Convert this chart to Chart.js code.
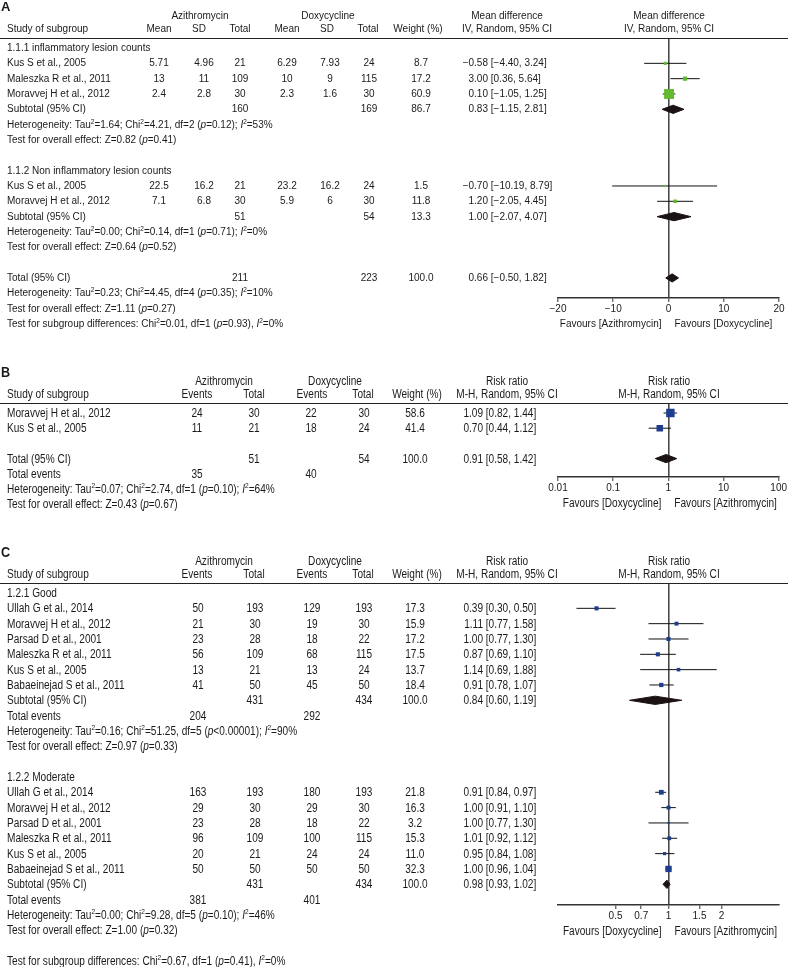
<!DOCTYPE html>
<html><head><meta charset="utf-8">
<script src="https://cdn.jsdelivr.net/npm/chart.js@4.4.0/dist/chart.umd.min.js"></script>
<style>
html,body{margin:0;padding:0;background:#fff;}
#page{position:relative;width:788px;height:967px;overflow:hidden;background:#fff;}
canvas{position:absolute;left:0;z-index:1;}
.t{position:absolute;white-space:pre;line-height:14px;height:14px;color:#1a1a1a;z-index:2;}
.fa{font-family:"Liberation Sans",Arial,sans-serif;font-size:10px;}
.fn{font-family:"Liberation Sans",Arial,sans-serif;font-size:12px;}
.lblA{font-weight:bold;font-size:13px;}
.lblN{font-weight:bold;font-size:15px;}
.hl{position:absolute;left:0;width:788px;height:0;border-top:1px solid #222;z-index:2;}
sup{font-size:0.65em;vertical-align:0.6em;line-height:0;}
</style></head>
<body><div id="page"></div>
<script>
// ---------------- Panel A data (mean difference) ----------------
const A_groupTitles = ["1.1.1 inflammatory lesion counts", "1.1.2 Non inflammatory lesion counts"];
const A_studies = [["Kus S et al., 2005", "Maleszka R et al., 2011", "Moravvej H et al., 2012"], ["Kus S et al., 2005", "Moravvej H et al., 2012"]];
const A_azMean = [[5.71, 13, 2.4], [22.5, 7.1]];
const A_azSD = [[4.96, 11, 2.8], [16.2, 6.8]];
const A_azTotal = [[21, 109, 30], [21, 30]];
const A_doxMean = [[6.29, 10, 2.3], [23.2, 5.9]];
const A_doxSD = [[7.93, 9, 1.6], [16.2, 6]];
const A_doxTotal = [[24, 115, 30], [24, 30]];
const A_weight = [[8.7, 17.2, 60.9], [1.5, 11.8]];
const A_md = [[-0.58, 3.00, 0.10], [-0.70, 1.20]];
const A_lo = [[-4.40, 0.36, -1.05], [-10.19, -2.05]];
const A_hi = [[3.24, 5.64, 1.25], [8.79, 4.45]];
const A_poolLabel = ["Subtotal (95% CI)", "Subtotal (95% CI)", "Total (95% CI)"];
const A_poolAzTotal = [160, 51, 211];
const A_poolDoxTotal = [169, 54, 223];
const A_poolWeight = [86.7, 13.3, 100.0];
const A_poolMd = [0.83, 1.00, 0.66];
const A_poolLo = [-1.15, -2.07, -0.50];
const A_poolHi = [2.81, 4.07, 1.82];
const A_hetTau = ["1.64", "0.00", "0.23"];
const A_hetChi = ["4.21", "0.14", "4.45"];
const A_hetDf = [2, 1, 4];
const A_hetP = ["=0.12", "=0.71", "=0.35"];
const A_hetI2 = [53, 0, 10];
const A_zVal = ["0.82", "0.64", "1.11"];
const A_zP = ["0.41", "0.52", "0.27"];
const A_subDiff = ["0.01", 1, "0.93", 0];
const A_ticks = [-20, -10, 0, 10, 20];

// ---------------- Panel B data (risk ratio) ----------------
const B_studies = ["Moravvej H et al., 2012", "Kus S et al., 2005"];
const B_azEvents = [24, 11];
const B_azTotal = [30, 21];
const B_doxEvents = [22, 18];
const B_doxTotal = [30, 24];
const B_weight = [58.6, 41.4];
const B_rr = [1.09, 0.70];
const B_lo = [0.82, 0.44];
const B_hi = [1.44, 1.12];
const B_poolTotals = [51, 54, 100.0];
const B_poolRR = [0.91, 0.58, 1.42];
const B_totalEvents = [35, 40];
const B_het = ["0.07", "2.74", 1, "=0.10", 64];
const B_z = ["0.43", "0.67"];
const B_ticks = [0.01, 0.1, 1, 10, 100];

// ---------------- Panel C data (risk ratio by subgroup) ----------------
const C_groupTitles = ["1.2.1 Good", "1.2.2 Moderate"];
const C_studies = ["Ullah G et al., 2014", "Moravvej H et al., 2012", "Parsad D et al., 2001", "Maleszka R et al., 2011", "Kus S et al., 2005", "Babaeinejad S et al., 2011"];
const C_azEvents = [[50, 21, 23, 56, 13, 41], [163, 29, 23, 96, 20, 50]];
const C_azTotal = [[193, 30, 28, 109, 21, 50], [193, 30, 28, 109, 21, 50]];
const C_doxEvents = [[129, 19, 18, 68, 13, 45], [180, 29, 18, 100, 24, 50]];
const C_doxTotal = [[193, 30, 22, 115, 24, 50], [193, 30, 22, 115, 24, 50]];
const C_weight = [[17.3, 15.9, 17.2, 17.5, 13.7, 18.4], [21.8, 16.3, 3.2, 15.3, 11.0, 32.3]];
const C_rr = [[0.39, 1.11, 1.00, 0.87, 1.14, 0.91], [0.91, 1.00, 1.00, 1.01, 0.95, 1.00]];
const C_lo = [[0.30, 0.77, 0.77, 0.69, 0.69, 0.78], [0.84, 0.91, 0.77, 0.92, 0.84, 0.96]];
const C_hi = [[0.50, 1.58, 1.30, 1.10, 1.88, 1.07], [0.97, 1.10, 1.30, 1.12, 1.08, 1.04]];
const C_poolAzTotal = [431, 431];
const C_poolDoxTotal = [434, 434];
const C_poolWeight = [100.0, 100.0];
const C_poolRR = [0.84, 0.98];
const C_poolLo = [0.60, 0.93];
const C_poolHi = [1.19, 1.02];
const C_totAzEvents = [204, 381];
const C_totDoxEvents = [292, 401];
const C_hetTau = ["0.16", "0.00"];
const C_hetChi = ["51.25", "9.28"];
const C_hetDf = [5, 5];
const C_hetP = ["<0.00001", "=0.10"];
const C_hetI2 = [90, 46];
const C_zVal = ["0.97", "1.00"];
const C_zP = ["0.33", "0.32"];
const C_subDiff = ["0.67", 1, "0.41", 0];
const C_ticks = [0.5, 0.7, 1, 1.5, 2];

// ---------------- helpers ----------------
const PAGE = document.getElementById('page');
const AXIS_H = 30;
const DIAMOND_H = 0.27;
const NARROW_SX = 0.84;
const num = v => String(v).replace('-', '\u2212');
const fmt2 = v => v.toFixed(2).replace('-', '\u2212');
const fmt1 = v => v.toFixed(1);
function T(html, x, y, cls, align) {
  const d = document.createElement('div');
  d.className = 't ' + cls;
  d.style.left = x + 'px';
  d.style.top = (y - 7) + 'px';
  const s = cls.indexOf('fn') >= 0 ? ' scaleX(' + NARROW_SX + ')' : '';
  if (align === 'c') { d.style.transform = 'translateX(-50%)' + s; d.style.transformOrigin = '50% 50%'; }
  else if (align === 'r') { d.style.transform = 'translateX(-100%)' + s; d.style.transformOrigin = '100% 50%'; }
  else if (s) { d.style.transform = s.trim(); d.style.transformOrigin = '0 50%'; }
  d.innerHTML = html;
  PAGE.appendChild(d);
}
function HL(y) { const d = document.createElement('div'); d.className = 'hl'; d.style.top = y + 'px'; PAGE.appendChild(d); }
function CI(est, lo, hi, x, y, cls) {
  T(fmt2(est), x, y, cls, 'r');
  T(' [' + fmt2(lo) + ', ' + fmt2(hi) + ']', x, y, cls, 'l');
}
const het = (tau, chi, df, p, i2) => 'Heterogeneity: Tau<sup>2</sup>=' + tau + '; Chi<sup>2</sup>=' + chi + ', df=' + df + ' (<i>p</i>' + p + '); <i>I</i><sup>2</sup>=' + i2 + '%';
const zt = (z, p) => 'Test for overall effect: Z=' + z + ' (<i>p</i>=' + p + ')';
const sdt = s => 'Test for subgroup differences: Chi<sup>2</sup>=' + s[0] + ', df=' + s[1] + ' (<i>p</i>=' + s[2] + '), <i>I</i><sup>2</sup>=' + s[3] + '%';

function forestSets(studies, pooled, color, sideFn) {
  const sets = [];
  sets.push({
    data: studies.map(s => ({x: s.est, y: s.r})),
    pointStyle: 'rect', pointRadius: studies.map(s => sideFn(s.w) / Math.SQRT2),
    backgroundColor: color, borderWidth: 0, pointBorderWidth: 0, showLine: false, order: 0
  });
  studies.forEach(s => sets.push({
    data: [{x: s.lo, y: s.r}, {x: s.hi, y: s.r}], showLine: true,
    borderColor: '#111', borderWidth: 1, pointRadius: 0, order: 2
  }));
  pooled.forEach(p => sets.push({
    data: [{x: p.lo, y: p.r}, {x: p.est, y: p.r - DIAMOND_H}, {x: p.hi, y: p.r}, {x: p.est, y: p.r + DIAMOND_H}, {x: p.lo, y: p.r}],
    showLine: true, fill: 'shape', backgroundColor: '#1b1313', borderColor: '#1b1313',
    borderWidth: 1, pointRadius: 0, tension: 0, order: 1
  }));
  return sets;
}

function makeChart(P, datasets) {
  const cv = document.createElement('canvas');
  cv.width = 788; cv.height = P.h;
  cv.style.top = P.top + 'px'; cv.style.width = '788px'; cv.style.height = P.h + 'px';
  PAGE.appendChild(cv);
  const yMin = -(P.firstRow - P.line) / P.step;
  const yMax = yMin + (P.axis - P.line) / P.step;
  const fav = {
    id: 'fav',
    afterDraw(chart) {
      const ctx = chart.ctx;
      const x0 = chart.scales.x.getPixelForValue(P.ref);
      const y = chart.chartArea.bottom + P.favDy;
      ctx.save();
      ctx.font = P.fontCss; ctx.fillStyle = '#1a1a1a'; ctx.textBaseline = 'middle';
      ctx.translate(x0, y); ctx.scale(P.favSx, 1);
      ctx.textAlign = 'right'; ctx.fillText(P.favL, -7 / P.favSx, 0);
      ctx.textAlign = 'left'; ctx.fillText(P.favR, 6 / P.favSx, 0);
      ctx.restore();
    }
  };
  return new Chart(cv.getContext('2d'), {
    type: 'scatter',
    data: {datasets},
    options: {
      responsive: false, animation: false, events: [],
      layout: {padding: {left: 558, right: 9, top: P.line - P.top, bottom: P.top + P.h - P.axis - AXIS_H}},
      plugins: {legend: {display: false}, tooltip: {enabled: false}},
      scales: {
        x: {
          type: P.xType, position: 'bottom', min: P.xMin, max: P.xMax, bounds: 'data',
          afterBuildTicks: ax => { ax.ticks = P.ticks.map(v => ({value: v})); },
          afterFit: ax => { ax.height = AXIS_H; },
          ticks: {autoSkip: false, maxRotation: 0, minRotation: 0, padding: 1, color: '#1a1a1a', font: P.tickFont, callback: v => num(v)},
          grid: {
            color: c => (c.tick && c.tick.value === P.ref) ? '#4a4a4a' : 'rgba(0,0,0,0)',
            lineWidth: 1.6, tickLength: 4, tickColor: '#333', tickWidth: 1
          },
          border: {display: true, color: '#333', width: 1.5}
        },
        y: {type: 'linear', display: false, reverse: true, min: yMin, max: yMax}
      }
    },
    plugins: [fav]
  });
}

// ================= Panel A =================
const PA = {top: 0, h: 340, line: 38, firstRow: 48, step: 15.33, axis: 298, ref: 0, xType: 'linear', xMin: -20, xMax: 20,
  ticks: A_ticks, tickFont: {family: '"Liberation Sans", Arial, sans-serif', size: 10}, fontCss: '10px "Liberation Sans", Arial, sans-serif',
  favL: 'Favours [Azithromycin]', favR: 'Favours [Doxycycline]', favDy: 26, favSx: 1};
const rowsA = [];
A_groupTitles.forEach((t, g) => {
  rowsA.push({kind: 'title', g});
  A_studies[g].forEach((s, i) => rowsA.push({kind: 'study', g, i}));
  rowsA.push({kind: 'pool', p: g}, {kind: 'het', p: g}, {kind: 'z', p: g}, {kind: 'blank'});
});
rowsA.push({kind: 'pool', p: 2}, {kind: 'het', p: 2}, {kind: 'z', p: 2}, {kind: 'sub'});
const stA = [], plA = [];
rowsA.forEach((r, idx) => {
  if (r.kind === 'study') stA.push({est: A_md[r.g][r.i], lo: A_lo[r.g][r.i], hi: A_hi[r.g][r.i], w: A_weight[r.g][r.i], r: idx});
  if (r.kind === 'pool') plA.push({est: A_poolMd[r.p], lo: A_poolLo[r.p], hi: A_poolHi[r.p], r: idx});
});
const chartA = makeChart(PA, forestSets(stA, plA, '#63b92f', w => 2 + 0.13 * w));
(function () {
  const f = 'fa', L = PA.line;
  const y = i => PA.top + chartA.scales.y.getPixelForValue(i);
  T('A', 1, L - 31, 'fa lblA', 'l');
  T('Azithromycin', 200, L - 22, f, 'c'); T('Doxycycline', 328, L - 22, f, 'c');
  T('Mean difference', 507, L - 22, f, 'c'); T('Mean difference', 669, L - 22, f, 'c');
  T('Study of subgroup', 7, L - 9, f, 'l');
  T('Mean', 159, L - 9, f, 'c'); T('SD', 199, L - 9, f, 'c'); T('Total', 240, L - 9, f, 'c');
  T('Mean', 287, L - 9, f, 'c'); T('SD', 327, L - 9, f, 'c'); T('Total', 368, L - 9, f, 'c');
  T('Weight (%)', 418, L - 9, f, 'c'); T('IV, Random, 95% CI', 507, L - 9, f, 'c'); T('IV, Random, 95% CI', 669, L - 9, f, 'c');
  HL(L);
  rowsA.forEach((r, idx) => {
    const yy = y(idx);
    if (r.kind === 'title') T(A_groupTitles[r.g], 7, yy, f, 'l');
    else if (r.kind === 'study') {
      const g = r.g, i = r.i;
      T(A_studies[g][i], 7, yy, f, 'l');
      T(num(A_azMean[g][i]), 159, yy, f, 'c'); T(num(A_azSD[g][i]), 204, yy, f, 'c'); T(num(A_azTotal[g][i]), 240, yy, f, 'c');
      T(num(A_doxMean[g][i]), 287, yy, f, 'c'); T(num(A_doxSD[g][i]), 330, yy, f, 'c'); T(num(A_doxTotal[g][i]), 369, yy, f, 'c');
      T(fmt1(A_weight[g][i]), 421, yy, f, 'c');
      CI(A_md[g][i], A_lo[g][i], A_hi[g][i], 488, yy, f);
    } else if (r.kind === 'pool') {
      const p = r.p;
      T(A_poolLabel[p], 7, yy, f, 'l');
      T(num(A_poolAzTotal[p]), 240, yy, f, 'c'); T(num(A_poolDoxTotal[p]), 369, yy, f, 'c');
      T(fmt1(A_poolWeight[p]), 421, yy, f, 'c');
      CI(A_poolMd[p], A_poolLo[p], A_poolHi[p], 488, yy, f);
    } else if (r.kind === 'het') T(het(A_hetTau[r.p], A_hetChi[r.p], A_hetDf[r.p], A_hetP[r.p], A_hetI2[r.p]), 7, yy, f, 'l');
    else if (r.kind === 'z') T(zt(A_zVal[r.p], A_zP[r.p]), 7, yy, f, 'l');
    else if (r.kind === 'sub') T(sdt(A_subDiff), 7, yy, f, 'l');
  });
})();

// ================= Panel B =================
const SANS = '"Liberation Sans", Arial, sans-serif';
const PB = {top: 360, h: 160, line: 403, firstRow: 413, step: 15.2, axis: 477, ref: 1, xType: 'logarithmic', xMin: 0.01, xMax: 100,
  ticks: B_ticks, tickFont: {family: SANS, size: 10}, fontCss: '12px ' + SANS,
  favL: 'Favours [Doxycycline]', favR: 'Favours [Azithromycin]', favDy: 27, favSx: NARROW_SX};
const rowsB = [];
B_studies.forEach((s, i) => rowsB.push({kind: 'study', i}));
rowsB.push({kind: 'blank'}, {kind: 'pool'}, {kind: 'events'}, {kind: 'het'}, {kind: 'z'});
const stB = [], plB = [];
rowsB.forEach((r, idx) => {
  if (r.kind === 'study') stB.push({est: B_rr[r.i], lo: B_lo[r.i], hi: B_hi[r.i], w: B_weight[r.i], r: idx});
  if (r.kind === 'pool') plB.push({est: B_poolRR[0], lo: B_poolRR[1], hi: B_poolRR[2], r: idx});
});
const chartB = makeChart(PB, forestSets(stB, plB, '#1d3d8f', w => 2 + 0.11 * w));

// ================= Panel C =================
const PC = {top: 530, h: 437, line: 583, firstRow: 593, step: 15.33, axis: 905, ref: 1, xType: 'logarithmic', xMin: 0.2355, xMax: 4.246,
  ticks: C_ticks, tickFont: {family: SANS, size: 10}, fontCss: '12px ' + SANS,
  favL: 'Favours [Doxycycline]', favR: 'Favours [Azithromycin]', favDy: 27, favSx: NARROW_SX};
const rowsC = [];
C_groupTitles.forEach((t, g) => {
  rowsC.push({kind: 'title', g});
  C_studies.forEach((s, i) => rowsC.push({kind: 'study', g, i}));
  rowsC.push({kind: 'pool', p: g}, {kind: 'events', p: g}, {kind: 'het', p: g}, {kind: 'z', p: g}, {kind: 'blank'});
});
rowsC.push({kind: 'sub'});
const stC = [], plC = [];
rowsC.forEach((r, idx) => {
  if (r.kind === 'study') stC.push({est: C_rr[r.g][r.i], lo: C_lo[r.g][r.i], hi: C_hi[r.g][r.i], w: C_weight[r.g][r.i], r: idx});
  if (r.kind === 'pool') plC.push({est: C_poolRR[r.p], lo: C_poolLo[r.p], hi: C_poolHi[r.p], r: idx});
});
const chartC = makeChart(PC, forestSets(stC, plC, '#1d3d8f', w => 1.5 + 0.15 * w));

function rrHeader(label, L) {
  const f = 'fn';
  T(label, 1, L - 31, 'fn lblN', 'l');
  T('Azithromycin', 224, L - 22, f, 'c'); T('Doxycycline', 335, L - 22, f, 'c');
  T('Risk ratio', 507, L - 22, f, 'c'); T('Risk ratio', 669, L - 22, f, 'c');
  T('Study of subgroup', 7, L - 9, f, 'l');
  T('Events', 197, L - 9, f, 'c'); T('Total', 254, L - 9, f, 'c');
  T('Events', 312, L - 9, f, 'c'); T('Total', 363, L - 9, f, 'c');
  T('Weight (%)', 417, L - 9, f, 'c'); T('M-H, Random, 95% CI', 507, L - 9, f, 'c'); T('M-H, Random, 95% CI', 669, L - 9, f, 'c');
  HL(L);
}
(function () {
  const f = 'fn';
  const y = i => PB.top + chartB.scales.y.getPixelForValue(i);
  rrHeader('B', PB.line);
  rowsB.forEach((r, idx) => {
    const yy = y(idx);
    if (r.kind === 'study') {
      const i = r.i;
      T(B_studies[i], 7, yy, f, 'l');
      T(num(B_azEvents[i]), 197, yy, f, 'c'); T(num(B_azTotal[i]), 254, yy, f, 'c');
      T(num(B_doxEvents[i]), 311, yy, f, 'c'); T(num(B_doxTotal[i]), 364, yy, f, 'c');
      T(fmt1(B_weight[i]), 415, yy, f, 'c');
      CI(B_rr[i], B_lo[i], B_hi[i], 483, yy, f);
    } else if (r.kind === 'pool') {
      T('Total (95% CI)', 7, yy, f, 'l');
      T(num(B_poolTotals[0]), 254, yy, f, 'c'); T(num(B_poolTotals[1]), 364, yy, f, 'c');
      T(fmt1(B_poolTotals[2]), 415, yy, f, 'c');
      CI(B_poolRR[0], B_poolRR[1], B_poolRR[2], 483, yy, f);
    } else if (r.kind === 'events') {
      T('Total events', 7, yy, f, 'l');
      T(num(B_totalEvents[0]), 197, yy, f, 'c'); T(num(B_totalEvents[1]), 311, yy, f, 'c');
    } else if (r.kind === 'het') T(het(B_het[0], B_het[1], B_het[2], B_het[3], B_het[4]), 7, yy, f, 'l');
    else if (r.kind === 'z') T(zt(B_z[0], B_z[1]), 7, yy, f, 'l');
  });
})();
(function () {
  const f = 'fn';
  const y = i => PC.top + chartC.scales.y.getPixelForValue(i);
  rrHeader('C', PC.line);
  rowsC.forEach((r, idx) => {
    const yy = y(idx);
    if (r.kind === 'title') T(C_groupTitles[r.g], 7, yy, f, 'l');
    else if (r.kind === 'study') {
      const g = r.g, i = r.i;
      T(C_studies[i], 7, yy, f, 'l');
      T(num(C_azEvents[g][i]), 198, yy, f, 'c'); T(num(C_azTotal[g][i]), 255, yy, f, 'c');
      T(num(C_doxEvents[g][i]), 312, yy, f, 'c'); T(num(C_doxTotal[g][i]), 364, yy, f, 'c');
      T(fmt1(C_weight[g][i]), 415, yy, f, 'c');
      CI(C_rr[g][i], C_lo[g][i], C_hi[g][i], 483, yy, f);
    } else if (r.kind === 'pool') {
      const p = r.p;
      T('Subtotal (95% CI)', 7, yy, f, 'l');
      T(num(C_poolAzTotal[p]), 255, yy, f, 'c'); T(num(C_poolDoxTotal[p]), 364, yy, f, 'c');
      T(fmt1(C_poolWeight[p]), 415, yy, f, 'c');
      CI(C_poolRR[p], C_poolLo[p], C_poolHi[p], 483, yy, f);
    } else if (r.kind === 'events') {
      T('Total events', 7, yy, f, 'l');
      T(num(C_totAzEvents[r.p]), 198, yy, f, 'c'); T(num(C_totDoxEvents[r.p]), 312, yy, f, 'c');
    } else if (r.kind === 'het') T(het(C_hetTau[r.p], C_hetChi[r.p], C_hetDf[r.p], C_hetP[r.p], C_hetI2[r.p]), 7, yy, f, 'l');
    else if (r.kind === 'z') T(zt(C_zVal[r.p], C_zP[r.p]), 7, yy, f, 'l');
    else if (r.kind === 'sub') T(sdt(C_subDiff), 7, yy, f, 'l');
  });
})();
</script></body></html>
